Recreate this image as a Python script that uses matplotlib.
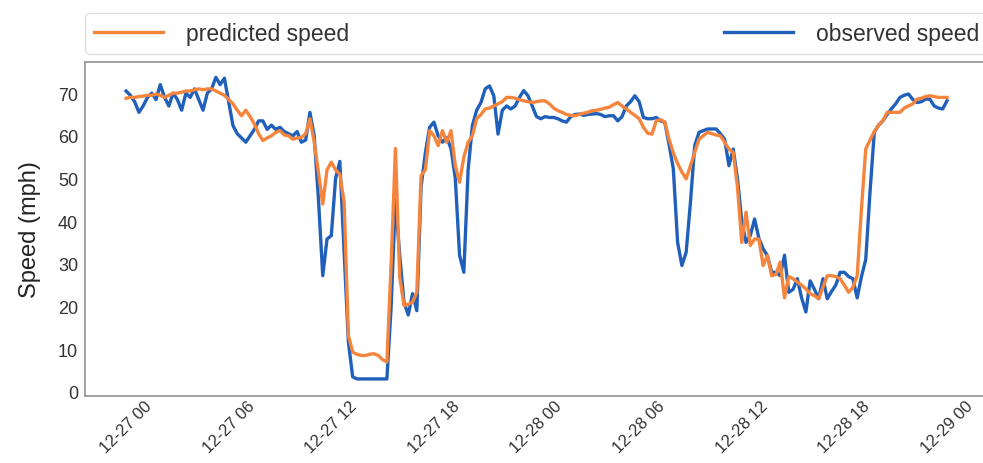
"""
plot.py

Predicted vs. observed traffic speed over two days (15 min steps)
"""

import numpy as np
import pandas as pd

import matplotlib
matplotlib.use("Agg")
from matplotlib import pyplot
import matplotlib.dates as mdates

# 15 minute samples, 12-27 00:00 .. 12-29 00:00
start = "2016-12-27 00:00"
n_samples = 193

observed = [
    70.5, 69.5, 68.0, 65.5,   67.0, 69.0, 70.0, 68.5,
    72.0, 69.0, 67.0, 70.0,   68.5, 66.0, 70.0, 69.0,
    71.0, 68.5, 66.0, 70.0,   71.0, 73.7, 72.0, 73.5,
    68.0, 62.4, 60.5, 59.5,   58.5, 60.0, 61.5, 63.5,
    63.5, 61.5, 62.5, 61.5,   62.0, 61.0, 60.5, 60.0,
    61.0, 58.5, 59.0, 65.5,   60.0, 45.0, 27.2, 35.8,
    36.6, 50.0, 54.0, 33.0,   11.6, 3.5, 3.0, 3.0,
    3.0, 3.0, 3.0, 3.0,       3.0, 3.0, 20.0, 45.0,
    32.0, 21.0, 18.0, 23.0,   19.0, 48.0, 56.0, 62.0,
    63.2, 60.0, 58.5, 59.6,   57.0, 50.0, 32.0, 28.0,
    52.0, 62.4, 66.0, 67.8,   71.0, 71.7, 69.4, 60.4,
    66.0, 67.0, 66.3, 67.0,   69.0, 70.6, 69.4, 67.0,
    64.5, 64.0, 64.5, 64.3,   64.3, 64.0, 63.5, 63.2,
    64.5, 65.0, 65.1, 64.8,   65.0, 65.1, 65.2, 65.0,
    64.5, 64.7, 64.7, 63.5,   64.5, 67.0, 68.0, 69.4,
    68.0, 64.3, 64.0, 64.0,   64.3, 63.5, 63.2, 58.0,
    52.2, 35.0, 29.6, 32.7,   44.4, 57.7, 60.8, 61.2,
    61.6, 61.6, 61.6, 60.5,   59.2, 53.0, 56.9, 50.0,
    40.0, 35.0, 36.6, 40.5,   36.0, 33.5, 31.9, 28.0,
    28.0, 27.2, 32.0, 23.3,   24.0, 26.5, 22.0, 18.7,
    26.0, 24.0, 21.8, 26.5,   21.8, 23.5, 25.0, 28.0,
    28.0, 27.0, 26.5, 22.0,   27.0, 31.0, 46.8, 60.8,
    62.5, 63.5, 65.0, 66.3,   67.5, 69.0, 69.5, 69.8,
    68.5, 67.8, 68.0, 68.6,   68.6, 67.0, 66.5, 66.3,
    68.2,
]

predicted = [
    68.8, 69.0, 69.0, 69.2,   69.3, 69.5, 69.5, 69.8,
    69.5, 69.0, 69.5, 70.0,   70.0, 70.2, 70.5, 70.5,
    70.8, 71.0, 70.8, 71.0,   71.0, 70.5, 70.0, 69.5,
    68.5, 67.5, 66.0, 64.7,   66.0, 64.5, 62.8, 60.5,
    58.9, 59.5, 60.0, 60.8,   61.2, 60.2, 60.0, 59.2,
    59.5, 59.6, 60.5, 64.0,   58.5, 51.4, 44.0, 52.0,
    53.8, 52.0, 51.0, 44.4,   13.2, 9.3, 8.8, 8.5,
    8.5, 8.8, 8.9, 8.5,       7.5, 7.0, 30.0, 57.0,
    27.0, 20.2, 20.5, 21.0,   23.3, 50.7, 52.0, 61.2,
    60.0, 57.7, 61.2, 58.5,   61.2, 53.0, 49.1, 55.0,
    58.5, 60.0, 64.0, 65.0,   66.3, 66.5, 67.0, 67.5,
    68.0, 69.0, 69.0, 68.8,   68.5, 68.2, 68.0, 67.8,
    68.0, 68.2, 68.2, 67.5,   66.5, 65.9, 65.5, 65.0,
    64.8, 64.7, 65.0, 65.3,   65.5, 65.9, 66.0, 66.2,
    66.5, 66.7, 67.3, 67.8,   67.0, 66.3, 65.5, 64.8,
    64.0, 62.0, 60.6, 60.4,   63.5, 63.8, 63.2, 59.2,
    56.0, 53.5, 51.5, 49.9,   53.0, 56.1, 59.2, 60.0,
    60.8, 60.5, 60.2, 60.0,   58.5, 56.9, 56.1, 48.0,
    35.0, 42.1, 34.3, 35.8,   35.8, 29.6, 31.9, 27.2,
    27.5, 30.4, 22.0, 27.0,   26.5, 25.7, 25.0, 24.1,
    23.0, 22.5, 21.8, 24.5,   27.2, 27.2, 27.0, 26.5,
    25.0, 23.3, 24.5, 27.2,   42.9, 56.9, 59.0, 61.0,
    62.5, 63.5, 65.5, 65.5,   65.5, 65.5, 66.5, 67.0,
    67.5, 68.6, 68.8, 69.2,   69.4, 69.2, 69.0, 69.0,
    69.0,
]

times = pd.date_range(start, periods=n_samples, freq="15min")

pyplot.rcParams["font.family"] = ["Liberation Sans", "DejaVu Sans"]

fig = pyplot.figure(figsize=(9.83, 4.64), dpi=100)
axes = fig.add_axes([0.0865, 0.1444, 0.9186, 0.7198])

blue = "#2060bb"
orange = "#f5843c"

l_obs, = axes.plot(times, observed, color=blue, lw=2.4, label="observed speed")
l_pred, = axes.plot(times, predicted, color=orange, lw=2.4,
                    label="predicted speed")

axes.margins(x=0.05)
axes.set_ylim(-1, 77.3)
axes.set_yticks(np.arange(0, 71, 10))

axes.xaxis.set_major_locator(mdates.HourLocator(byhour=[0, 6, 12, 18]))
axes.xaxis.set_major_formatter(mdates.DateFormatter("%m-%d %H"))
for lbl in axes.get_xticklabels():
    lbl.set_rotation(45)
    lbl.set_ha("center")

axes.tick_params(length=0, labelcolor="#333333")
axes.tick_params(axis="y", labelsize=13, pad=5)
axes.tick_params(axis="x", labelsize=12, pad=1.5)
axes.set_ylabel("Speed (mph)", fontsize=17, color="#222222", labelpad=12)

for sp in axes.spines.values():
    sp.set_color("#9a9a9a")
    sp.set_linewidth(1.3)

leg = axes.legend([l_pred, l_obs], ["predicted speed", "observed speed"],
                  loc="lower left", bbox_to_anchor=(0, 1.024, 1, 0.11),
                  mode="expand", ncol=2, borderaxespad=0, fontsize=16.5,
                  frameon=True, fancybox=True, handlelength=3,
                  handletextpad=1.0)
leg.get_frame().set_edgecolor("#d8d8d8")
leg.get_frame().set_linewidth(1.0)
for txt in leg.get_texts():
    txt.set_color("#333333")

fig.savefig("out.png", dpi=100)
